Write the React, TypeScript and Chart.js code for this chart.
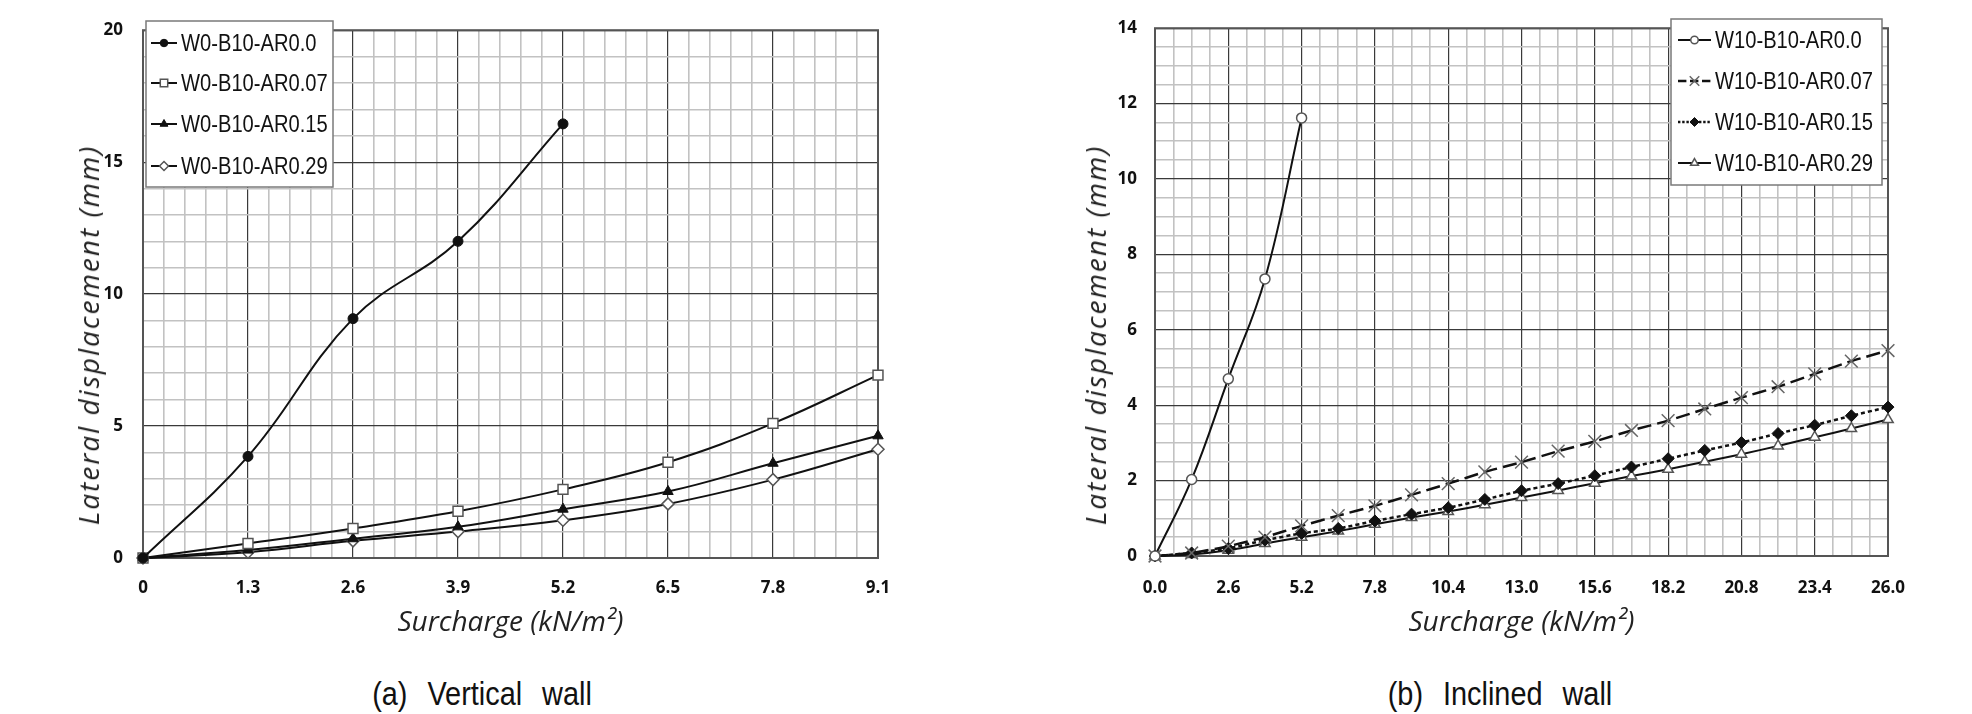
import React, { useEffect, useRef } from 'react';
import { Chart, registerables } from 'chart.js';
import { drawPoint } from 'chart.js/helpers';

Chart.register(...registerables);

// (a) Vertical wall
const surchargeA = [0, 1.3, 2.6, 3.9, 5.2, 6.5, 7.8, 9.1];
const aAR000 = [0, 3.85, 9.07, 12.0, 16.45];
const aAR007 = [0, 0.55, 1.12, 1.77, 2.6, 3.63, 5.1, 6.93];
const aAR015 = [0, 0.3, 0.73, 1.18, 1.85, 2.52, 3.59, 4.63];
const aAR029 = [0, 0.22, 0.65, 1.0, 1.43, 2.05, 2.97, 4.12];
const ticksAX = ['0', '1.3', '2.6', '3.9', '5.2', '6.5', '7.8', '9.1'];
const ticksAY = ['0', '5', '10', '15', '20'];

// (b) Inclined wall
const surchargeB = [0, 1.3, 2.6, 3.9, 5.2, 6.5, 7.8, 9.1, 10.4, 11.7, 13.0, 14.3, 15.6, 16.9, 18.2, 19.5, 20.8, 22.1, 23.4, 24.7, 26.0];
const bAR000 = [0, 2.03, 4.7, 7.35, 11.62];
const bAR007 = [0, 0.08, 0.26, 0.5, 0.8, 1.07, 1.33, 1.62, 1.92, 2.23, 2.49, 2.78, 3.04, 3.33, 3.59, 3.9, 4.2, 4.49, 4.83, 5.17, 5.45];
const bAR015 = [0, 0.08, 0.2, 0.42, 0.6, 0.73, 0.93, 1.11, 1.28, 1.5, 1.73, 1.92, 2.13, 2.36, 2.58, 2.8, 3.01, 3.25, 3.47, 3.72, 3.95];
const bAR029 = [0, 0.04, 0.15, 0.33, 0.5, 0.66, 0.84, 1.02, 1.18, 1.36, 1.55, 1.74, 1.93, 2.12, 2.3, 2.5, 2.7, 2.92, 3.15, 3.38, 3.62];
const ticksBX = ['0.0', '2.6', '5.2', '7.8', '10.4', '13.0', '15.6', '18.2', '20.8', '23.4', '26.0'];
const ticksBY = ['0', '2', '4', '6', '8', '10', '12', '14'];

const xTitle = 'Surcharge (kN/m²)';
const yTitle = 'Lateral displacement (mm)';

const tickFont = { family: "'Open Sans', sans-serif", size: 17, weight: 'bold' as const };
const legendFont = "24px 'Liberation Sans', Arial, sans-serif";
const legendSqueeze = 0.84;

const pts = (xs: number[], ys: number[]) => ys.map((y, i) => ({ x: xs[i], y }));

type AxisSpec = { min: number; max: number; steps: number; every: number; labels: string[] };

function buildScale(spec: AxisSpec, size: (s: any) => void, padding: number, title?: any) {
    return {
        type: 'linear' as const,
        min: spec.min,
        max: spec.max,
        afterBuildTicks: (s: any) => {
            // minor grid every step, labels only on majors
            s.ticks = Array.from({ length: spec.steps + 1 }, (_, i) => ({
                value: spec.min + ((spec.max - spec.min) * i) / spec.steps,
            }));
        },
        afterFit: size,
        ticks: {
            autoSkip: false,
            maxRotation: 0,
            minRotation: 0,
            padding,
            color: '#111',
            font: tickFont,
            callback: (_v: any, i: number) => (i % spec.every === 0 ? spec.labels[i / spec.every] : ''),
        },
        grid: {
            drawTicks: false,
            color: (c: any) => (c.index % spec.every === 0 ? '#3a3a3a' : '#c2c2c2'),
            lineWidth: (c: any) => (c.index % spec.every === 0 ? 1.2 : 1.6),
        },
        border: { display: false },
        title: title ?? { display: false },
    };
}

// frame round the plot area
const frame = {
    id: 'frame',
    beforeDatasetsDraw(chart: any) {
        const { ctx, chartArea: a } = chart;
        ctx.save();
        ctx.strokeStyle = '#555';
        ctx.lineWidth = 2;
        ctx.strokeRect(a.left, a.top, a.right - a.left, a.bottom - a.top);
        ctx.restore();
    },
};

// boxed legend drawn inside the plot
const legendBox = {
    id: 'legendBox',
    afterDraw(chart: any, _args: any, opts: any) {
        if (!opts || !opts.box) return;
        const { ctx } = chart;
        const [bx, by, bw, bh] = opts.box;
        ctx.save();
        ctx.fillStyle = '#fff';
        ctx.fillRect(bx, by, bw, bh);
        ctx.strokeStyle = '#7a7a7a';
        ctx.lineWidth = 1.5;
        ctx.strokeRect(bx, by, bw, bh);
        chart.data.datasets.forEach((ds: any, i: number) => {
            const ry = opts.rows[i];
            const [x0, x1] = opts.lineX;
            ctx.save();
            ctx.strokeStyle = ds.borderColor;
            ctx.lineWidth = ds.borderWidth;
            ctx.setLineDash(ds.borderDash ? ds.borderDash.map((d: number) => d * 0.6) : []);
            ctx.beginPath();
            ctx.moveTo(x0, ry);
            ctx.lineTo(x1, ry);
            ctx.stroke();
            ctx.setLineDash([]);
            ctx.fillStyle = ds.pointBackgroundColor;
            ctx.strokeStyle = ds.pointBorderColor;
            ctx.lineWidth = ds.pointBorderWidth;
            drawPoint(ctx, { pointStyle: ds.pointStyle, rotation: 0, radius: ds.pointRadius * 0.75, borderWidth: ds.pointBorderWidth }, (x0 + x1) / 2, ry);
            ctx.restore();
            ctx.save();
            ctx.fillStyle = '#111';
            ctx.font = legendFont;
            ctx.textAlign = 'left';
            ctx.textBaseline = 'middle';
            ctx.translate(opts.textX, ry + 1);
            ctx.scale(legendSqueeze, 1);
            ctx.fillText(ds.label, 0, 0);
            ctx.restore();
        });
        ctx.restore();
    },
};

const line = (label: string, data: any[], extra: any) => ({
    label,
    data,
    borderColor: '#111',
    borderWidth: 2,
    fill: false,
    clip: false,
    tension: 0.4,
    ...extra,
});

const WallChart: React.FC<{ config: any; width: number; height: number; left: number }> = ({ config, width, height, left }) => {
    const ref = useRef<HTMLCanvasElement | null>(null);
    useEffect(() => {
        if (!ref.current) return;
        const chart = new Chart(ref.current, config);
        return () => chart.destroy();
    }, [config]);
    return (
        <canvas ref={ref} width={width} height={height}
            style={{ position: 'absolute', left, top: 0, width, height }} />
    );
};

const xTitleOpt = {
    display: true,
    text: xTitle,
    color: '#222',
    font: { family: "'Open Sans', sans-serif", size: 28, style: 'italic' as const },
    padding: { top: 0, bottom: 20 },
};

const configA = {
    type: 'line',
    data: {
        datasets: [
            line('W0-B10-AR0.0', pts(surchargeA, aAR000), { pointStyle: 'circle', pointRadius: 5, pointBackgroundColor: '#111', pointBorderColor: '#111', pointBorderWidth: 1 }),
            line('W0-B10-AR0.07', pts(surchargeA, aAR007), { pointStyle: 'rect', pointRadius: 7, pointBackgroundColor: '#fff', pointBorderColor: '#555', pointBorderWidth: 1.5 }),
            line('W0-B10-AR0.15', pts(surchargeA, aAR015), { pointStyle: 'triangle', pointRadius: 6, pointBackgroundColor: '#111', pointBorderColor: '#111', pointBorderWidth: 1 }),
            line('W0-B10-AR0.29', pts(surchargeA, aAR029), { pointStyle: 'rectRot', pointRadius: 6, pointBackgroundColor: '#fff', pointBorderColor: '#555', pointBorderWidth: 1.5 }),
        ],
    },
    options: {
        animation: false,
        responsive: false,
        layout: { padding: { top: 18, right: 82, left: 0, bottom: 0 } },
        plugins: {
            legend: { display: false },
            tooltip: { enabled: false },
            legendBox: { box: [146, 21, 187, 166], rows: [43, 83, 124, 166], lineX: [151, 177], textX: 181 },
        },
        scales: {
            x: buildScale({ min: 0, max: 9.1, steps: 35, every: 5, labels: ticksAX }, (s: any) => { s.height = 102; }, 20, xTitleOpt),
            y: buildScale({ min: 0, max: 20, steps: 20, every: 5, labels: ticksAY }, (s: any) => { s.width = 143; }, 20),
        },
    },
    plugins: [frame, legendBox],
};

const configB = {
    type: 'line',
    data: {
        datasets: [
            line('W10-B10-AR0.0', pts(surchargeB, bAR000), { pointStyle: 'circle', pointRadius: 5, pointBackgroundColor: '#fff', pointBorderColor: '#555', pointBorderWidth: 1.5 }),
            line('W10-B10-AR0.07', pts(surchargeB, bAR007), { tension: 0.2, borderWidth: 2.5, borderDash: [14, 6], pointStyle: 'crossRot', pointRadius: 9, pointBackgroundColor: '#666', pointBorderColor: '#666', pointBorderWidth: 1.5 }),
            line('W10-B10-AR0.15', pts(surchargeB, bAR015), { tension: 0.2, borderWidth: 2.5, borderDash: [4, 3], pointStyle: 'rectRot', pointRadius: 6, pointBackgroundColor: '#111', pointBorderColor: '#111', pointBorderWidth: 1 }),
            line('W10-B10-AR0.29', pts(surchargeB, bAR029), { tension: 0.2, pointStyle: 'triangle', pointRadius: 6, pointBackgroundColor: '#fff', pointBorderColor: '#555', pointBorderWidth: 1.5 }),
        ],
    },
    options: {
        animation: false,
        responsive: false,
        layout: { padding: { top: 16, right: 84, left: 0, bottom: 0 } },
        plugins: {
            legend: { display: false },
            tooltip: { enabled: false },
            legendBox: { box: [691, 19, 211, 166], rows: [40, 81, 122, 163], lineX: [698, 731], textX: 735 },
        },
        scales: {
            x: buildScale({ min: 0, max: 26, steps: 40, every: 4, labels: ticksBX }, (s: any) => { s.height = 104; }, 22, xTitleOpt),
            y: buildScale({ min: 0, max: 14, steps: 28, every: 4, labels: ticksBY }, (s: any) => { s.width = 175; }, 18),
        },
    },
    plugins: [frame, legendBox],
};

const yTitleStyle = (cx: number): React.CSSProperties => ({
    position: 'absolute',
    left: cx,
    top: 335,
    transform: 'translate(-50%, -50%) rotate(-90deg)',
    whiteSpace: 'nowrap',
    fontFamily: "'Open Sans', sans-serif",
    fontStyle: 'italic',
    fontSize: 28,
    letterSpacing: 2,
    color: '#222',
    lineHeight: '32px',
});

const captionStyle = (cx: number): React.CSSProperties => ({
    position: 'absolute',
    left: cx,
    top: 693,
    transform: 'translate(-50%, -50%) scaleX(0.85)',
    whiteSpace: 'nowrap',
    fontFamily: "'Liberation Sans', Arial, sans-serif",
    fontSize: 34,
    wordSpacing: 14,
    color: '#111',
    lineHeight: '36px',
});

const App: React.FC = () => {
    return (
        <div style={{ position: 'absolute', left: 0, top: 0, width: 1972, height: 714, background: '#fff', overflow: 'hidden' }}>
            <WallChart config={configA} width={960} height={660} left={0} />
            <WallChart config={configB} width={992} height={660} left={980} />
            <div style={yTitleStyle(88)}>{yTitle}</div>
            <div style={yTitleStyle(1095)}>{yTitle}</div>
            <div style={captionStyle(482)}>(a) Vertical wall</div>
            <div style={captionStyle(1500)}>(b) Inclined wall</div>
        </div>
    );
};

export default App;
